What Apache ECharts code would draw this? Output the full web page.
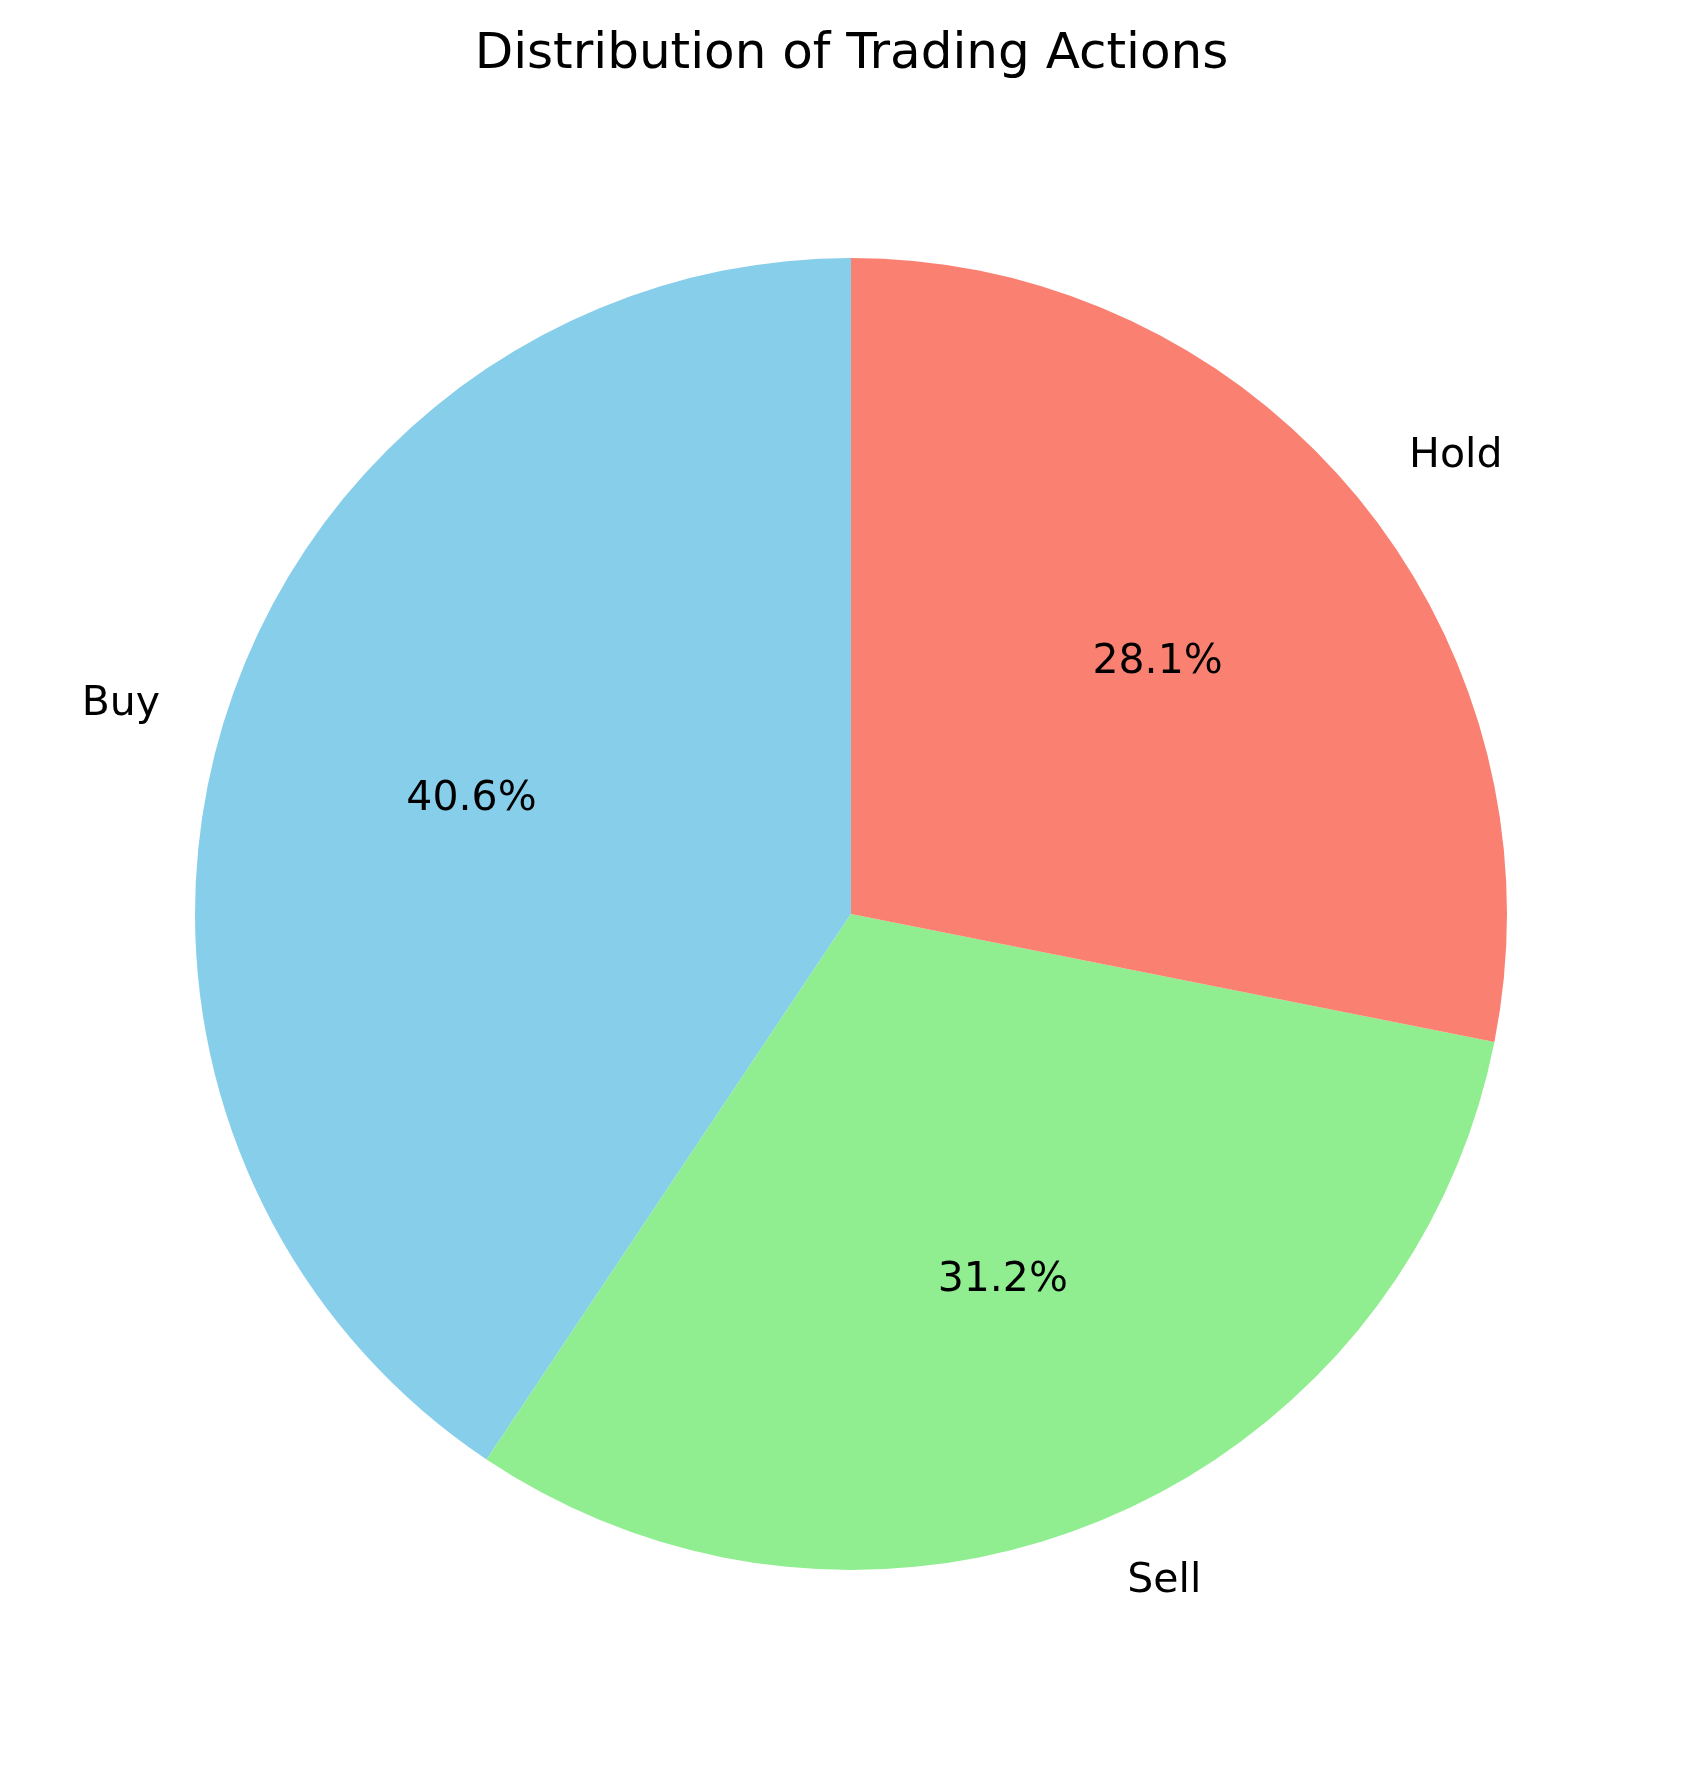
<!DOCTYPE html>
<html>
<head>
<meta charset="utf-8">
<script src="https://cdn.jsdelivr.net/npm/echarts@6/dist/echarts.min.js"></script>
<style>
html,body{margin:0;padding:0;background:#fff;}
#chart{width:1703px;height:1766px;}
</style>
</head>
<body>
<div id="chart"></div>
<script>
const categories = ['Buy', 'Sell', 'Hold'];
const values = [13, 10, 9];
const colors = ['#87CEEB', '#90EE90', '#FA8072'];
const titleText = 'Distribution of Trading Actions';

const total = values.reduce((a, b) => a + b, 0);
function pctLabel(v) {
  const p = v / total * 100;
  const scaled = p * 10;
  const fl = Math.floor(scaled);
  const diff = scaled - fl;
  let n;
  if (Math.abs(diff - 0.5) < 1e-9) n = (fl % 2 === 0) ? fl : fl + 1;
  else n = Math.round(scaled);
  return (n / 10).toFixed(1) + '%';
}

const data = categories.map((c, i) => ({ name: c, value: values[i], itemStyle: { color: colors[i] } }));
const dataT = categories.map((c, i) => ({ name: c, value: values[i], itemStyle: { color: 'rgba(0,0,0,0)' } }));
const FONT = 'DejaVu Sans';
const R = 656;
const chart = echarts.init(document.getElementById('chart'));
chart.setOption({
  animation: false,
  backgroundColor: '#ffffff',
  title: {
    text: titleText,
    left: 'center',
    top: 25,
    textStyle: { fontFamily: FONT, fontSize: 50, fontWeight: 'normal', color: '#000' }
  },
  series: [
    {
      type: 'pie',
      center: [851, 914],
      radius: [0, R],
      startAngle: 90,
      clockwise: false,
      avoidLabelOverlap: false,
      silent: true,
      data: data,
      label: {
        show: true,
        position: 'outside',
        formatter: '{b}',
        color: '#000',
        fontFamily: FONT,
        fontSize: 41,
        distanceToLabelLine: 0
      },
      labelLine: { show: false, length: 66, length2: 0 }
    },
    {
      type: 'pie',
      center: [851, 914],
      radius: [R * 0.2, R],
      startAngle: 90,
      clockwise: false,
      silent: true,
      data: dataT,
      label: {
        show: true,
        position: 'inside',
        formatter: p => pctLabel(p.value),
        color: '#000',
        fontFamily: FONT,
        fontSize: 41
      },
      labelLine: { show: false }
    }
  ]
});
</script>
</body>
</html>
